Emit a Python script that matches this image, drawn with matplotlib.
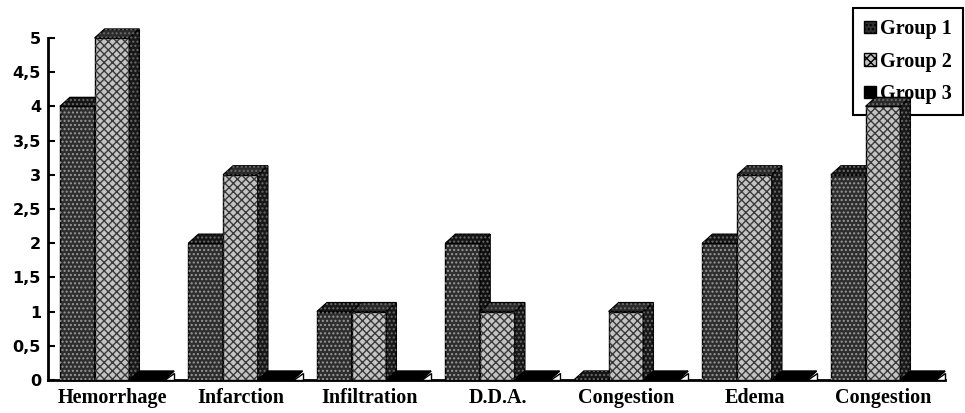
import matplotlib
matplotlib.use("Agg")
import matplotlib.pyplot as plt
from matplotlib.patches import Polygon, Patch
import numpy as np

categories = ["Hemorrhage", "Infarction", "Infiltration", "D.D.A.", "Congestion", "Edema", "Congestion"]
group1 = [4, 2, 1, 2, 0, 2, 3]
group2 = [5, 3, 1, 1, 1, 3, 4]
group3 = [0, 0, 0, 0, 0, 0, 0]
series_names = ["Group 1", "Group 2", "Group 3"]
yticks = [0, 0.5, 1, 1.5, 2, 2.5, 3, 3.5, 4, 4.5, 5]
ytick_labels = ["0", "0,5", "1", "1,5", "2", "2,5", "3", "3,5", "4", "4,5", "5"]

W, H = 965, 413
fig = plt.figure(figsize=(W / 100, H / 100), dpi=100)
ax_l, ax_r, ax_b, ax_t = 48, 945, 380, 38
ax = fig.add_axes([ax_l / W, 1 - ax_b / H, (ax_r - ax_l) / W, (ax_b - ax_t) / H])

px_per_cat = 128.5
ax.set_xlim(0, (ax_r - ax_l) / px_per_cat)
ax.set_ylim(0, 5)

bw = 0.27
offsets = [0.093, 0.093 + bw, 0.093 + 2 * bw]
dx = 10 / px_per_cat
dy = 9 / ((ax_b - ax_t) / 5)

styles = [
    dict(front="#2e2e2e", top="#151515", side="#101010", hatch="....", hc="#9a9a9a"),
    dict(front="#c4c4c4", top="#2a2a2a", side="#181818", hatch="xxxx", hc="#3a3a3a"),
    dict(front="#000000", top="#000000", side="#000000", hatch=None, hc=None),
]

x = np.arange(len(categories))
for gi, vals in enumerate([group1, group2, group3]):
    st = styles[gi]
    z = 3 + gi
    lefts = x + offsets[gi]
    ax.bar(lefts, vals, bw, align="edge", color=st["front"], edgecolor="black",
           linewidth=1.0, zorder=z, clip_on=False)
    if st["hatch"]:
        ax.bar(lefts, vals, bw, align="edge", fill=False, edgecolor=st["hc"],
               hatch=st["hatch"], linewidth=0, zorder=z, clip_on=False)
    for l, v in zip(lefts, vals):
        r = l + bw
        top = Polygon([(l, v), (l + dx, v + dy), (r + dx, v + dy), (r, v)], closed=True,
                      facecolor=st["top"], edgecolor="black", linewidth=1.0, zorder=z, clip_on=False)
        side = Polygon([(r, 0), (r, v), (r + dx, v + dy), (r + dx, dy)], closed=True,
                       facecolor=st["side"], edgecolor="black", linewidth=1.0, zorder=z, clip_on=False)
        ax.add_patch(top)
        ax.add_patch(side)
        if gi == 2:
            tri = Polygon([(r, 0), (r + dx, 0), (r + dx, dy * 0.8)], closed=True,
                          facecolor="white", edgecolor="black", linewidth=1.0,
                          zorder=z + 0.5, clip_on=False)
            ax.add_patch(tri)
        if st["hatch"]:
            for poly in ([(l, v), (l + dx, v + dy), (r + dx, v + dy), (r, v)],
                         [(r, 0), (r, v), (r + dx, v + dy), (r + dx, dy)]):
                ax.add_patch(Polygon(poly, closed=True, fill=False, edgecolor="#6a6a6a",
                                     hatch="....", linewidth=0, zorder=z, clip_on=False))

for s in ["top", "right"]:
    ax.spines[s].set_visible(False)
ax.spines["left"].set_linewidth(2)
ax.spines["bottom"].set_linewidth(2)

ax.set_yticks(yticks)
ax.set_yticklabels(ytick_labels, fontsize=11.5, fontweight="bold", family="DejaVu Sans")
ax.tick_params(axis="y", direction="in", length=5, width=1.5, pad=5)
ax.set_xticks(x + 0.5)
ax.set_xticklabels(categories, fontsize=14.5, fontweight="bold", family="Liberation Serif")
ax.tick_params(axis="x", length=0, pad=6)

handles = [
    Patch(facecolor="#2e2e2e", edgecolor="black", hatch="....", label=series_names[0]),
    Patch(facecolor="#c4c4c4", edgecolor="black", hatch="xxxx", label=series_names[1]),
    Patch(facecolor="#000000", edgecolor="black", label=series_names[2]),
]
leg = ax.legend(handles=handles, loc="upper left", bbox_to_anchor=(853 / W, 1 - 8 / H),
                bbox_transform=fig.transFigure, frameon=True, fancybox=False,
                edgecolor="black", framealpha=1, handlelength=0.6, handleheight=0.6,
                handletextpad=0.2, labelspacing=0.62, borderpad=0.55, borderaxespad=0,
                prop=dict(family="Liberation Serif", weight="bold", size=14.5))
leg.get_frame().set_linewidth(1.5)
leg.set_zorder(1)

fig.savefig("out.png", dpi=100)
